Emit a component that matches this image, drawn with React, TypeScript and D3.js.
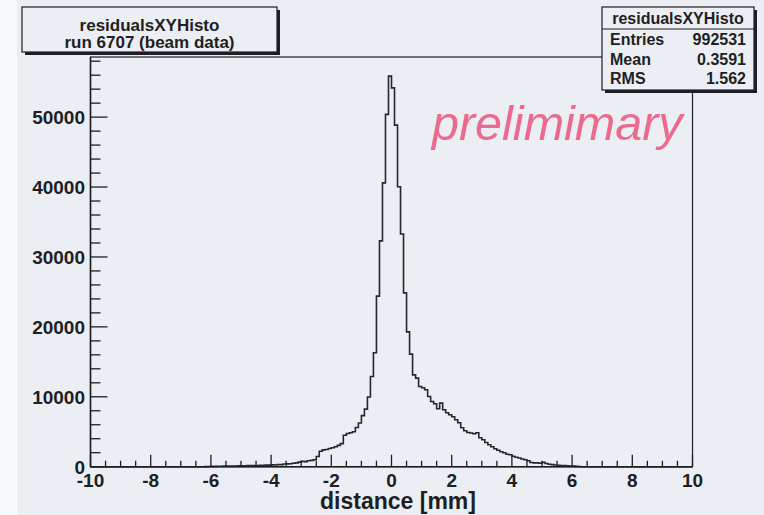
import React from "react";
import * as d3 from "d3";

// ---- data ----
const histTitle = "residualsXYHisto";
const runLabel = "run 6707 (beam data)";
const xAxisTitle = "distance [mm]";
const watermark = "prelimimary";
const statNames = ["Entries", "Mean", "RMS"];
const statValues = ["992531", "0.3591", "1.562"];

const xMin = -10;
const xMax = 10;
const binWidth = 0.1;
const yMax = 58600;
const xTicks = [-10, -8, -6, -4, -2, 0, 2, 4, 6, 8, 10];
const yTicks = [0, 10000, 20000, 30000, 40000, 50000];

// bin contents, lower edges from -6.2 up to 6.2 in steps of 0.1
const firstBinLow = -6.2;
const leftCounts = [
  10, 20, 40, 50, 60, 70, 80, 90, 90, 100, // -6.2 .. -5.3
  110, 120, 130, 140, 150, 160, 170, 180, 210, 200, // -5.2 .. -4.3
  220, 230, 260, 250, 290, 300, 380, 400, 430, 500, // -4.2 .. -3.3
  550, 650, 760, 720, 850, 900, 1000, 1450, 2200, 2400, // -3.2 .. -2.3
  2450, 2600, 2700, 2850, 3050, 3300, 4500, 4750, 4850, 5000, // -2.2 .. -1.3
  5600, 6250, 7300, 8240, 9960, 12900, 16300, 24400, 32300, 40600, // -1.2 .. -0.3
  50400, 55860, // -0.2, -0.1
];
const rightCounts = [
  54190, 48860, 40040, 33290, 24860, 19290, 16100, 13140, 12670, 11470, // 0.0 .. 0.9
  11290, 11000, 10040, 9330, 9000, 8290, 9100, 8140, 7710, 7430, // 1.0 .. 1.9
  7140, 6710, 6290, 5570, 5140, 4900, 4810, 4710, 4860, 4140, // 2.0 .. 2.9
  3860, 3470, 3140, 2860, 2570, 2360, 2140, 2000, 1790, 1710, // 3.0 .. 3.9
  1500, 1350, 1250, 1100, 1000, 850, 600, 550, 550, 500, // 4.0 .. 4.9
  620, 450, 350, 300, 250, 200, 180, 150, 120, 100, // 5.0 .. 5.9
  80, 50, 30, // 6.0 .. 6.2
];

const FONT = "'Liberation Sans', Arial, Helvetica, sans-serif";
const BG = "#ebeef2";
const INK = "#1e1e24";

export default function App() {
  const W = 764;
  const H = 515;
  const fL = 90.5, fR = 692.5, fT = 57, fB = 466.7;

  const x = d3.scaleLinear().domain([xMin, xMax]).range([fL, fR]);
  const y = d3.scaleLinear().domain([0, yMax]).range([fB, fT]);

  const counts = [...leftCounts, ...rightCounts];
  const nBins = Math.round((xMax - xMin) / binWidth);
  const offset = Math.round((firstBinLow - xMin) / binWidth);
  const pts: [number, number][] = [];
  for (let i = 0; i < nBins; i++) {
    const k = i - offset;
    const v = k >= 0 && k < counts.length ? counts[k] : 0;
    pts.push([xMin + i * binWidth, v]);
  }
  pts.push([xMax, pts[pts.length - 1][1]]);
  const line = d3
    .line<[number, number]>()
    .x((d) => x(d[0]))
    .y((d) => y(d[1]))
    .curve(d3.curveStepAfter);

  const xMinor = d3.range(xMin, xMax + 0.001, 0.5).filter((v) => !xTicks.includes(Math.round(v * 10) / 10));
  const yMinor = d3.range(0, yMax, 2000).filter((v) => v % 10000 !== 0);

  return (
    <svg width={W} height={H} style={{ display: "block", position: "absolute", left: 0, top: 0 }}>
      <rect x={0} y={0} width={W} height={H} fill={BG} />
      <rect x={0} y={0} width={17} height={H} fill="#f8f9fa" />

      {/* frame */}
      <rect x={fL} y={fT} width={fR - fL} height={fB - fT} fill="none" stroke={INK} strokeWidth={1.2} />

      {/* histogram */}
      <path d={line(pts) || ""} fill="none" stroke="#26262c" strokeWidth={1.6} />

      {/* x axis */}
      <line x1={fL} x2={fR} y1={fB} y2={fB} stroke={INK} strokeWidth={1.5} />
      {xTicks.map((t) => (
        <line key={"xt" + t} x1={x(t)} x2={x(t)} y1={fB} y2={fB - 12} stroke={INK} strokeWidth={1.3} />
      ))}
      {xMinor.map((t) => (
        <line key={"xm" + t} x1={x(t)} x2={x(t)} y1={fB} y2={fB - 6} stroke={INK} strokeWidth={1.3} />
      ))}
      {xTicks.map((t) => (
        <text key={"xl" + t} x={x(t)} y={487} textAnchor="middle" fontFamily={FONT} fontWeight="bold" fontSize={19} fill={INK}>
          {String(t)}
        </text>
      ))}
      <text x={398} y={509} textAnchor="middle" fontFamily={FONT} fontWeight="bold" fontSize={23} fill={INK}>
        {xAxisTitle}
      </text>

      {/* y axis */}
      <line x1={fL} x2={fL} y1={fT} y2={fB} stroke={INK} strokeWidth={1.5} />
      {yTicks.map((t) => (
        <line key={"yt" + t} x1={fL} x2={fL + 17} y1={y(t)} y2={y(t)} stroke={INK} strokeWidth={1.3} />
      ))}
      {yMinor.map((t) => (
        <line key={"ym" + t} x1={fL} x2={fL + 10} y1={y(t)} y2={y(t)} stroke={INK} strokeWidth={1.3} />
      ))}
      {yTicks.map((t) => (
        <text key={"yl" + t} x={85} y={y(t) + 7} textAnchor="end" fontFamily={FONT} fontWeight="bold" fontSize={19} fill={INK}>
          {String(t)}
        </text>
      ))}

      {/* watermark */}
      <text x={432} y={140} fontFamily={FONT} fontStyle="italic" fontSize={48.5} fill="#ec6a8e">
        {watermark}
      </text>

      {/* title box */}
      <rect x={25} y={10} width={255} height={45} fill={INK} />
      <rect x={22} y={7} width={255} height={45} fill={BG} stroke={INK} strokeWidth={1.2} />
      <text x={149.5} y={31} textAnchor="middle" fontFamily={FONT} fontWeight="bold" fontSize={17} fill={INK}>
        {histTitle}
      </text>
      <text x={149.5} y={48} textAnchor="middle" fontFamily={FONT} fontWeight="bold" fontSize={17} fill={INK}>
        {runLabel}
      </text>

      {/* stats box */}
      <rect x={605} y={10} width={152} height={83} fill={INK} />
      <rect x={602} y={7} width={152} height={83} fill={BG} stroke={INK} strokeWidth={1.2} />
      <line x1={602} x2={754} y1={29} y2={29} stroke={INK} strokeWidth={1.2} />
      <text x={678} y={24} textAnchor="middle" fontFamily={FONT} fontWeight="bold" fontSize={16} fill={INK}>
        {histTitle}
      </text>
      {statNames.map((n, i) => (
        <g key={n}>
          <text x={610} y={45 + i * 19.5} fontFamily={FONT} fontWeight="bold" fontSize={16} fill={INK}>
            {n}
          </text>
          <text x={746} y={45 + i * 19.5} textAnchor="end" fontFamily={FONT} fontWeight="bold" fontSize={16} fill={INK}>
            {statValues[i]}
          </text>
        </g>
      ))}
    </svg>
  );
}
